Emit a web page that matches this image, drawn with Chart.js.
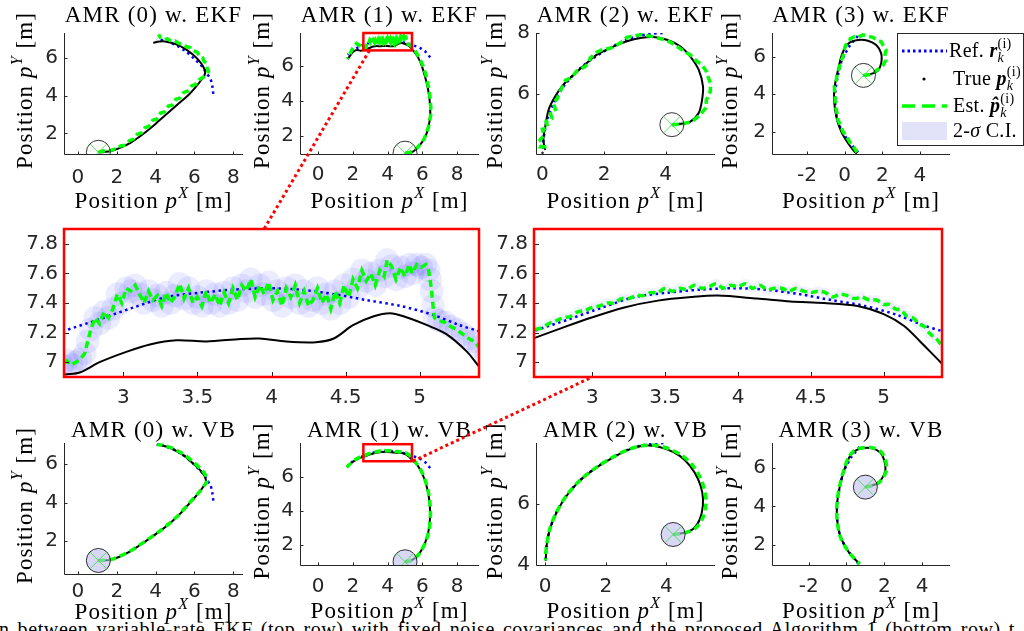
<!DOCTYPE html>
<html lang="en">
<head>
<meta charset="UTF-8">
<title>AMR trajectories - EKF vs VB</title>
<script src="https://cdn.jsdelivr.net/npm/chart.js"></script>
<style>
  html, body { margin: 0; padding: 0; background: #fff; }
  body { position: relative; width: 1024px; height: 631px; overflow: hidden; }
  canvas.pane { position: absolute; z-index: 1; }
  #links { position: absolute; left: 0; top: 0; z-index: 5; }
  #caption { position: absolute; left: -1px; top: 619px; font-family: "Liberation Serif", serif;
             font-size: 20px; line-height: 20px; white-space: nowrap; color: #000;
             letter-spacing: 0.6px; word-spacing: 2.4px; }
</style>
</head>
<body>
<div id="caption">n between variable-rate EKF (top row) with fixed noise covariances and the proposed Algorithm 1 (bottom row) t</div>
<canvas id="links" width="1024" height="631"></canvas>
<script>
// ---- trajectories, [x, y] in metres ----
// AMR (0)
const ref0 = [[6.97,4.1],[6.92,4.5],[6.82,4.9],[6.62,5.2],[6.52,5.38],[6.3,5.66],[5.95,6.0],[5.51,6.39],[5.1,6.65],[4.74,6.82],[4.35,6.95],[4.06,7.0]];
const true0e = [[1.05,1.0],[1.35,1.02],[1.7,1.07],[2.2,1.25],[2.7,1.5],[3.2,1.85],[3.7,2.25],[4.2,2.7],[4.7,3.15],[5.2,3.6],[5.65,4.0],[6.05,4.45],[6.4,4.9],[6.55,5.2],[6.45,5.55],[6.2,5.9],[5.9,6.2],[5.5,6.5],[5.0,6.75],[4.5,6.88],[4.1,6.87],[3.88,6.8]];
const est0e = [[1.05,1.0],[1.3,1.08],[1.55,1.02],[1.8,1.14],[2.0,1.2],[2.2,1.34],[2.45,1.38],[2.65,1.62],[2.85,1.7],[3.05,1.96],[3.25,2.02],[3.45,2.3],[3.65,2.38],[3.85,2.7],[4.05,2.76],[4.25,3.08],[4.45,3.14],[4.65,3.45],[4.85,3.5],[5.05,3.82],[5.25,3.88],[5.45,4.18],[5.65,4.25],[5.85,4.52],[6.05,4.6],[6.25,4.86],[6.45,4.98],[6.6,5.12],[6.72,5.3],[6.65,5.5],[6.62,5.7],[6.48,5.85],[6.42,6.02],[6.25,6.12],[6.15,6.3],[5.95,6.38],[5.8,6.55],[5.6,6.6],[5.4,6.75],[5.2,6.78],[5.0,6.92],[4.8,6.9],[4.6,7.02],[4.4,6.98],[4.25,7.08],[4.15,7.25]];
const true0v = [[1.05,1.0],[1.35,1.0],[1.66,1.03],[2.2,1.22],[2.69,1.47],[3.2,1.8],[3.72,2.16],[4.24,2.53],[4.74,2.93],[5.2,3.35],[5.6,3.8],[5.98,4.22],[6.28,4.58],[6.5,4.88],[6.59,5.09],[6.52,5.38],[6.3,5.66],[5.95,6.0],[5.51,6.39],[5.1,6.65],[4.74,6.82],[4.35,6.95],[4.06,6.99]];
const est0v = [[1.05,1.0],[1.4,1.01],[1.7,1.05],[2.2,1.24],[2.7,1.49],[3.2,1.82],[3.72,2.17],[4.24,2.55],[4.74,2.95],[5.2,3.37],[5.6,3.82],[5.98,4.24],[6.3,4.6],[6.52,4.9],[6.64,5.1],[6.58,5.4],[6.36,5.7],[6.0,6.04],[5.55,6.42],[5.12,6.68],[4.75,6.85],[4.35,6.97],[4.08,7.0]];

// AMR (1)
const ref1 = [[6.45,6.5],[6.2,6.8],[5.9,7.02],[5.6,7.15],[5.4,7.21],[5.27,7.25],[5.09,7.32],[4.87,7.38],[4.64,7.42],[4.42,7.46],[4.19,7.49],[3.97,7.5],[3.74,7.49],[3.52,7.47],[3.29,7.44],[3.07,7.37],[2.84,7.29],[2.6,7.21],[2.3,7.08],[2.0,6.9],[1.7,6.65]];
const true1e = [[5.0,1.0],[5.4,1.05],[5.8,1.4],[6.15,1.9],[6.35,2.5],[6.45,3.2],[6.42,4.0],[6.32,4.7],[6.15,5.4],[5.95,6.05],[5.75,6.5],[5.55,6.8],[5.4,6.97],[5.32,7.07],[5.18,7.19],[5.05,7.25],[4.89,7.31],[4.8,7.33],[4.69,7.31],[4.55,7.25],[4.42,7.16],[4.3,7.135],[4.1,7.14],[3.92,7.16],[3.79,7.157],[3.56,7.14],[3.36,7.148],[3.18,7.12],[3.02,7.07],[2.84,7.0],[2.705,6.93],[2.6,6.915],[2.45,6.88],[2.25,6.92],[2.05,6.85],[1.85,6.62],[1.7,6.4]];
const est1e = [[5.0,1.0],[5.3,1.05],[5.7,1.3],[6.1,1.8],[6.35,2.5],[6.5,3.3],[6.45,4.1],[6.35,4.8],[6.2,5.5],[6.0,6.1],[5.8,6.5],[5.6,6.85],[5.45,7.05],
  [5.40,7.10],[5.37,7.14],[5.33,7.16],[5.29,7.19],[5.25,7.22],[5.21,7.24],[5.17,7.27],[5.13,7.28],[5.10,7.30],[5.09,7.38],[5.08,7.48],[5.07,7.56],[5.06,7.62],[5.04,7.66],[5.01,7.64],[4.98,7.66],[4.95,7.60],[4.93,7.66],[4.90,7.58],[4.87,7.64],[4.84,7.56],[4.81,7.65],[4.78,7.69],[4.76,7.58],[4.73,7.62],[4.70,7.52],[4.67,7.60],[4.64,7.55],[4.61,7.62],[4.58,7.50],[4.55,7.56],[4.52,7.44],[4.49,7.52],[4.46,7.40],[4.43,7.48],[4.40,7.36],[4.37,7.46],[4.34,7.40],[4.31,7.50],[4.28,7.42],[4.25,7.38],[4.22,7.48],[4.19,7.40],[4.16,7.52],[4.13,7.44],[4.10,7.50],[4.07,7.38],[4.04,7.48],[4.01,7.42],[3.98,7.54],[3.95,7.46],[3.92,7.52],[3.89,7.44],[3.86,7.56],[3.83,7.48],[3.80,7.52],[3.77,7.42],[3.74,7.50],[3.71,7.40],[3.68,7.47],[3.65,7.38],[3.62,7.46],[3.59,7.40],[3.56,7.48],[3.53,7.38],[3.50,7.44],[3.47,7.40],[3.44,7.50],[3.41,7.43],[3.38,7.53],[3.35,7.45],[3.32,7.40],[3.29,7.47],[3.26,7.38],[3.23,7.45],[3.20,7.42],[3.17,7.48],[3.14,7.40],[3.11,7.46],[3.08,7.52],[3.05,7.48],[3.02,7.50],[2.99,7.40],[2.96,7.46],[2.93,7.36],[2.90,7.30],[2.87,7.34],[2.84,7.26],[2.81,7.30],[2.78,7.22],[2.76,7.14],[2.74,7.06],[2.71,7.02],[2.68,7.00],[2.65,6.98],[2.62,7.01],[2.59,6.98],
  [2.5,7.05],[2.35,7.22],[2.2,7.3],[2.05,7.15],[1.9,6.85],[1.75,6.55],[1.68,6.42]];
const true1v = [[5.0,1.0],[5.3,1.06],[5.63,1.25],[5.9,1.6],[6.15,2.1],[6.35,2.8],[6.44,3.6],[6.42,4.4],[6.3,5.2],[6.1,5.9],[5.85,6.45],[5.6,6.8],[5.39,7.0],[5.25,7.14],[5.14,7.245],[5.0,7.325],[4.82,7.38],[4.59,7.4],[4.36,7.41],[4.13,7.43],[3.86,7.45],[3.68,7.44],[3.45,7.416],[3.22,7.37],[2.99,7.3],[2.76,7.22],[2.61,7.166],[2.35,7.07],[2.1,6.93],[1.85,6.75],[1.65,6.55]];
const est1v = [[5.0,1.0],[5.3,1.05],[5.62,1.24],[5.9,1.6],[6.16,2.1],[6.37,2.8],[6.46,3.6],[6.44,4.4],[6.32,5.2],[6.12,5.9],[5.88,6.45],[5.62,6.82],[5.5,6.98],
  [5.40,7.11],[5.36,7.16],[5.32,7.19],[5.28,7.24],[5.24,7.26],[5.20,7.30],[5.16,7.31],[5.12,7.35],[5.08,7.36],[5.04,7.39],[5.00,7.39],[4.95,7.42],[4.90,7.42],[4.85,7.44],[4.80,7.43],[4.75,7.45],[4.70,7.46],[4.65,7.44],[4.60,7.47],[4.55,7.48],[4.50,7.47],[4.45,7.48],[4.40,7.50],[4.35,7.48],[4.30,7.50],[4.25,7.50],[4.20,7.49],[4.15,7.52],[4.10,7.50],[4.05,7.53],[4.00,7.51],[3.95,7.52],[3.90,7.50],[3.85,7.53],[3.80,7.51],[3.75,7.50],[3.70,7.52],[3.65,7.49],[3.60,7.50],[3.55,7.48],[3.50,7.50],[3.45,7.47],[3.40,7.47],[3.35,7.45],[3.30,7.45],[3.25,7.43],[3.20,7.43],[3.15,7.40],[3.10,7.40],[3.05,7.38],[3.00,7.37],[2.95,7.35],[2.90,7.34],[2.85,7.31],[2.80,7.30],[2.75,7.28],[2.70,7.26],[2.65,7.23],[2.60,7.22],
  [2.4,7.14],[2.15,7.0],[1.9,6.8],[1.65,6.55]];

// AMR (2)
const ref2 = [[3.9,8.0],[3.5,7.97],[3.1,7.9],[2.68,7.76],[2.25,7.54],[1.7,7.21],[1.15,6.78],[0.71,6.28],[0.38,5.74],[0.16,5.19],[0.05,4.64],[0.0,4.05]];
const true2e = [[4.2,5.0],[4.48,5.03],[4.8,5.1],[5.07,5.38],[5.18,5.81],[5.21,6.25],[5.07,6.8],[4.8,7.23],[4.48,7.56],[4.04,7.78],[3.61,7.87],[3.18,7.84],[2.74,7.73],[2.31,7.56],[1.77,7.29],[1.44,7.02],[1.01,6.63],[0.68,6.31],[0.41,5.92],[0.2,5.49],[0.09,4.94],[0.03,4.5],[0.09,4.17]];
const est2e = [[4.2,5.0],[4.5,5.02],[4.85,5.1],[5.1,5.3],[5.3,5.55],[5.32,5.8],[5.45,6.1],[5.45,6.36],[5.38,6.55],[5.32,6.75],[5.15,6.98],[5.0,7.08],[4.8,7.28],[4.6,7.4],[4.37,7.56],[4.15,7.7],[3.95,7.78],[3.6,7.88],[3.2,7.95],[2.95,7.9],[2.74,7.86],[2.6,7.72],[2.4,7.6],[2.2,7.5],[1.95,7.46],[1.75,7.36],[1.55,7.18],[1.5,7.02],[1.38,6.9],[1.12,6.76],[0.95,6.55],[0.75,6.45],[0.65,6.25],[0.55,6.05],[0.48,5.85],[0.35,5.72],[0.42,5.5],[0.25,5.42],[0.3,5.2],[0.12,5.1],[0.18,4.9],[0.0,4.85],[0.05,4.65],[-0.08,4.5],[0.0,4.35],[-0.05,4.28],[0.14,4.28]];
const true2v = [[4.22,5.0],[4.55,5.05],[4.88,5.18],[5.1,5.5],[5.2,5.95],[5.18,6.38],[5.04,6.82],[4.77,7.26],[4.44,7.58],[4.0,7.8],[3.56,7.91],[3.12,7.89],[2.68,7.75],[2.25,7.53],[1.7,7.2],[1.15,6.77],[0.71,6.27],[0.38,5.73],[0.16,5.18],[0.05,4.63],[0.02,4.14]];
const est2v = [[4.22,5.0],[4.6,5.05],[4.95,5.2],[5.2,5.55],[5.3,6.0],[5.27,6.4],[5.12,6.85],[4.85,7.28],[4.5,7.6],[4.05,7.82],[3.6,7.93],[3.14,7.9],[2.68,7.76],[2.24,7.54],[1.7,7.21],[1.15,6.78],[0.71,6.28],[0.38,5.74],[0.16,5.2],[0.05,4.65],[0.01,4.15]];

// AMR (3)
const ref3 = [[0.7,7.1],[0.45,6.8],[0.25,6.55],[0.05,6.2],[-0.14,5.83],[-0.35,5.04],[-0.49,4.17],[-0.49,3.3],[-0.32,2.43],[0.04,1.74],[0.39,1.3],[0.72,0.9]];
const true3e = [[1.0,5.0],[1.41,5.08],[1.76,5.25],[1.94,5.64],[1.94,6.18],[1.68,6.62],[1.24,6.85],[0.71,6.89],[0.26,6.75],[0.0,6.44],[-0.18,6.0],[-0.35,5.29],[-0.53,4.4],[-0.56,3.69],[-0.44,2.8],[-0.18,2.0],[0.18,1.38],[0.53,0.93],[0.65,0.84]];
const est3e = [[1.0,5.0],[1.41,5.05],[1.85,5.38],[2.05,5.55],[2.2,5.82],[2.15,6.1],[2.2,6.36],[2.05,6.6],[1.94,6.8],[1.7,6.9],[1.5,7.03],[1.2,7.1],[0.97,7.16],[0.75,7.05],[0.53,7.07],[0.3,6.95],[0.26,6.82],[0.05,6.6],[0.0,6.45],[-0.05,6.2],[-0.09,6.0],[-0.22,5.7],[-0.26,5.47],[-0.4,5.1],[-0.44,4.76],[-0.55,4.4],[-0.53,4.04],[-0.5,3.7],[-0.48,3.33],[-0.4,2.95],[-0.35,2.62],[-0.2,2.3],[-0.09,2.0],[0.1,1.75],[0.26,1.47],[0.35,1.3],[0.53,1.11],[0.65,0.9]];
const true3v = [[1.0,5.0],[1.53,5.15],[1.88,5.45],[2.06,5.88],[2.0,6.4],[1.79,6.8],[1.35,7.02],[0.83,7.02],[0.39,6.85],[0.12,6.5],[-0.14,5.83],[-0.35,5.04],[-0.49,4.17],[-0.49,3.3],[-0.32,2.43],[0.04,1.74],[0.39,1.3],[0.7,1.0]];
const est3v = [[1.0,5.0],[1.55,5.13],[1.9,5.42],[2.12,5.9],[2.06,6.42],[1.83,6.84],[1.37,7.06],[0.83,7.05],[0.38,6.88],[0.1,6.52],[-0.15,5.85],[-0.36,5.05],[-0.5,4.18],[-0.5,3.3],[-0.33,2.43],[0.03,1.74],[0.39,1.3],[0.7,1.0]];

// ---- tick labels ----
const ticksX08 = [0, 2, 4, 6, 8];
const ticksX04 = [0, 2, 4];
const ticksXm24 = [-2, 0, 2, 4];
const ticksY246 = [2, 4, 6];
const ticksY68 = [6, 8];
const ticksY46 = [4, 6];
const zoomTicksX = [3, 3.5, 4, 4.5, 5];
const zoomTicksY = [7, 7.2, 7.4, 7.6, 7.8];
const zoomWin = [2.6, 5.4, 6.9, 7.9];   // x min, x max, y min, y max

const titles = ['AMR (0) w. EKF', 'AMR (1) w. EKF', 'AMR (2) w. EKF', 'AMR (3) w. EKF',
                'AMR (0) w. VB', 'AMR (1) w. VB', 'AMR (2) w. VB', 'AMR (3) w. VB'];

// ---- styling ----
const SERIF = '"Liberation Serif", "Times New Roman", serif';
const TICKFONT = { family: '"DejaVu Sans", sans-serif', size: 20 };
const AXC = '#262626';
const AW = 40, AH = 30;

const xy = a => a.map(p => ({ x: p[0], y: p[1] }));

function sigmaPx(chart, r) {
  const s = chart.scales.x;
  if (!s) return 0;
  return Math.abs(s.getPixelForValue(r) - s.getPixelForValue(0));
}

function pathSets(ref, tru, est, vb) {
  const sig = vb ? 0.035 : 0.08;
  return [
    { data: xy([tru[0]]), pointStyle: 'crossRot', pointRadius: 12, borderColor: '#33dd33', borderWidth: 0.8, backgroundColor: 'transparent', order: 0 },
    { data: xy([tru[0]]), pointStyle: 'circle', pointRadius: 12, borderColor: '#000', borderWidth: 0.8, backgroundColor: vb ? 'rgba(190,190,240,0.6)' : 'transparent', order: 0.5 },
    { data: xy(est), showLine: true, borderColor: '#00ff00', borderWidth: 3.5, borderDash: [7, 4], pointRadius: 0, tension: vb ? 0.3 : 0, order: 1 },
    { data: xy(tru), showLine: true, borderColor: '#000', borderWidth: 2, pointRadius: 0, tension: 0.3, order: 2 },
    { data: xy(ref), showLine: true, borderColor: '#0000ff', borderWidth: 2.5, borderDash: [2.5, 3.5], pointRadius: 0, tension: 0.3, order: 3 },
    { data: xy(est), pointRadius: c => sigmaPx(c.chart, sig), backgroundColor: vb ? 'rgba(0,0,255,0.05)' : 'rgba(0,0,255,0.075)', borderWidth: 0, order: 4 }
  ];
}

function zoomSets(ref, tru, est, vb) {
  return pathSets(ref, tru, est, vb).slice(2);
}

// ---- rich text (math-ish labels) ----
function richWidth(ctx, runs) {
  let w = 0;
  for (const r of runs) {
    if (r.stack) {
      let m = 0;
      r.stack.forEach(s => { ctx.font = s.f; m = Math.max(m, ctx.measureText(s.t).width); });
      w += m;
    } else { ctx.font = r.f; w += ctx.measureText(r.t).width; }
  }
  return w;
}
function drawRich(ctx, runs, x, y) {
  let cx = x;
  for (const r of runs) {
    if (r.stack) {
      let m = 0;
      r.stack.forEach(s => { ctx.font = s.f; ctx.fillText(s.t, cx, y + (s.dy || 0)); m = Math.max(m, ctx.measureText(s.t).width); });
      cx += m;
    } else {
      ctx.font = r.f; ctx.fillText(r.t, cx, y + (r.dy || 0)); cx += ctx.measureText(r.t).width;
    }
  }
}
const R23 = '23px ' + SERIF, I23 = 'italic 23px ' + SERIF, I16 = 'italic 16px ' + SERIF;
const labelRuns = sup => [{ t: 'Position ', f: R23 }, { t: 'p', f: I23 }, { t: sup, f: I16, dy: -10 }, { t: ' [m]', f: R23 }];

const R20 = '20px ' + SERIF, BI20 = 'bold italic 20px ' + SERIF, R14 = '14px ' + SERIF, I14 = 'italic 14px ' + SERIF, I20 = 'italic 20px ' + SERIF;
const idx = [{ t: '(i)', f: R14, dy: -9 }, { t: 'k', f: I14, dy: 5 }];
const legendRows = [
  { kind: 'dot', runs: [{ t: 'Ref. ', f: R20 }, { t: 'r', f: BI20 }, { stack: idx }] },
  { kind: 'pt', runs: [{ t: 'True ', f: R20 }, { t: 'p', f: BI20 }, { stack: idx }] },
  { kind: 'dash', runs: [{ t: 'Est. ', f: R20 }, { t: 'p\u0302', f: BI20 }, { stack: idx }] },
  { kind: 'ci', runs: [{ t: '2-', f: R20 }, { t: '\u03c3', f: I20 }, { t: ' C.I.', f: R20 }] }
];

function seg(ctx, x1, y1, x2, y2) { ctx.beginPath(); ctx.moveTo(x1, y1); ctx.lineTo(x2, y2); ctx.stroke(); }

function panelPlugin(p) {
  return {
    id: 'deco',
    afterDraw(chart) {
      const ctx = chart.ctx, a = chart.chartArea, sx = chart.scales.x, sy = chart.scales.y;
      ctx.save();
      ctx.fillStyle = '#000';
      if (p.zoom) {
        ctx.strokeStyle = AXC; ctx.lineWidth = 1;
        p.xt.forEach(v => { const x = Math.round(sx.getPixelForValue(v)) + 0.5; seg(ctx, x, a.bottom, x, a.bottom - 5); });
        p.yt.forEach(v => { const y = Math.round(sy.getPixelForValue(v)) + 0.5; seg(ctx, a.left, y, a.left + 5, y); });
        ctx.strokeStyle = '#ff0000'; ctx.lineWidth = 2.5;
        ctx.strokeRect(a.left, a.top, a.right - a.left, a.bottom - a.top);
      } else {
        ctx.strokeStyle = AXC; ctx.lineWidth = 1;
        const l = Math.round(a.left) + 0.5, b = Math.round(a.bottom) + 0.5;
        seg(ctx, l, a.top, l, b); seg(ctx, l, b, a.right, b);
        p.xt.forEach(v => { const x = Math.round(sx.getPixelForValue(v)) + 0.5; seg(ctx, x, b, x, b - 3); });
        p.yt.forEach(v => { const y = Math.round(sy.getPixelForValue(v)) + 0.5; seg(ctx, l, y, l + 3, y); });
        if (p.box) {
          const x1 = sx.getPixelForValue(zoomWin[0]), x2 = sx.getPixelForValue(zoomWin[1]);
          const y1 = sy.getPixelForValue(zoomWin[3]), y2 = sy.getPixelForValue(zoomWin[2]);
          ctx.strokeStyle = '#ff0000'; ctx.lineWidth = 2.5;
          ctx.strokeRect(x1, y1, x2 - x1, y2 - y1);
        }
        const cxm = (a.left + a.right) / 2;
        ctx.textBaseline = 'alphabetic'; ctx.textAlign = 'left';
        ctx.letterSpacing = '1.2px';
        // title
        const tr = [{ t: p.title, f: R23 }];
        drawRich(ctx, tr, cxm - richWidth(ctx, tr) / 2, p.titleY - p.y0);
        ctx.letterSpacing = '1.1px';
        // x label
        const xl = labelRuns('X');
        drawRich(ctx, xl, cxm - richWidth(ctx, xl) / 2, p.xlabY - p.y0);
        // y label
        const yl = labelRuns('Y');
        ctx.save();
        ctx.translate(p.ylabX - p.x0 + 7, (a.top + a.bottom) / 2 - 3);
        ctx.rotate(-Math.PI / 2);
        drawRich(ctx, yl, -richWidth(ctx, yl) / 2, 0);
        ctx.restore();
        ctx.letterSpacing = '0.3px';
        if (p.legend) drawLegend(ctx, p);
      }
      ctx.restore();
    }
  };
}

function drawLegend(ctx, p) {
  const ox = -p.x0, oy = -p.y0;
  const bx = 897 + ox, by = 33 + oy, bw = 126, bh = 112;
  ctx.fillStyle = '#fff'; ctx.fillRect(bx, by, bw, bh);
  ctx.strokeStyle = AXC; ctx.lineWidth = 1; ctx.strokeRect(bx + 0.5, by + 0.5, bw, bh);
  const rowsY = [51, 79, 106, 131];
  legendRows.forEach((r, i) => {
    const y = rowsY[i] + oy;
    ctx.save();
    if (r.kind === 'dot') {
      ctx.strokeStyle = '#0000ff'; ctx.lineWidth = 3; ctx.setLineDash([2.5, 3]); seg(ctx, bx + 5, y, bx + 50, y);
    } else if (r.kind === 'pt') {
      ctx.fillStyle = '#000'; ctx.beginPath(); ctx.arc(bx + 27, y, 1.6, 0, Math.PI * 2); ctx.fill();
    } else if (r.kind === 'dash') {
      ctx.strokeStyle = '#00ff00'; ctx.lineWidth = 3.5; ctx.setLineDash([13, 7]); seg(ctx, bx + 5, y, bx + 50, y);
    } else {
      ctx.fillStyle = '#e2e2f8'; ctx.fillRect(bx + 5, y - 9, 45, 18);
    }
    ctx.restore();
    ctx.fillStyle = '#000';
    drawRich(ctx, r.runs, bx + (i === 0 ? 52 : 56), y + 6);
  });
}

// ---- panel layout ----
const panels = [
  { id: 'p1', x0: 0,   y0: 0,   w: 263, h: 220, L: 64,  T: 33,  R: 243, B: 154, xlim: [-0.72, 8.5], ylim: [0.91, 7.33], xt: ticksX08, yt: ticksY246, ti: 0, titleY: 22,  xlabY: 208, ylabX: 25,  xpad: 12, sets: pathSets(ref0, true0e, est0e, false) },
  { id: 'p2', x0: 236, y0: 0,   w: 263, h: 220, L: 300, T: 33,  R: 479, B: 154, xlim: [-1.05, 9.26], ylim: [0.95, 7.9], xt: ticksX08, yt: ticksY246, ti: 1, titleY: 22, xlabY: 208, ylabX: 262, xpad: 9, box: true, sets: pathSets(ref1, true1e, est1e, false) },
  { id: 'p3', x0: 472, y0: 0,   w: 263, h: 220, L: 536, T: 33,  R: 715, B: 154, xlim: [-0.21, 5.6], ylim: [4.04, 8.0], xt: ticksX04, yt: ticksY68, ti: 2, titleY: 22, xlabY: 208, ylabX: 495, xpad: 9, sets: pathSets(ref2, true2e, est2e, false) },
  { id: 'p4', x0: 708, y0: 0,   w: 316, h: 220, L: 772, T: 33,  R: 950, B: 154, xlim: [-3.86, 5.6], ylim: [0.81, 7.26], xt: ticksXm24, yt: ticksY246, ti: 3, titleY: 22, xlabY: 208, ylabX: 730, xpad: 10, legend: true, sets: pathSets(ref3, true3e, est3e, false) },
  { id: 'm1', x0: 0,   y0: 204, w: 500, h: 206, L: 64,  T: 229, R: 479, B: 377, xlim: [zoomWin[0], zoomWin[1]], ylim: [zoomWin[2], zoomWin[3]], xt: zoomTicksX, yt: zoomTicksY, zoom: true, xpad: 9, sets: zoomSets(ref1, true1e, est1e, false) },
  { id: 'm2', x0: 490, y0: 204, w: 534, h: 206, L: 534, T: 229, R: 942, B: 377, xlim: [zoomWin[0], zoomWin[1]], ylim: [zoomWin[2], zoomWin[3]], xt: zoomTicksX, yt: zoomTicksY, zoom: true, xpad: 9, sets: zoomSets(ref1, true1v, est1v, true) },
  { id: 'p5', x0: 0,   y0: 410, w: 263, h: 221, L: 64,  T: 443, R: 243, B: 574, xlim: [-0.72, 8.5], ylim: [0.3, 7.08], xt: ticksX08, yt: ticksY246, ti: 4, titleY: 437, xlabY: 619, ylabX: 25, xpad: 6, sets: pathSets(ref0, true0v, est0v, true) },
  { id: 'p6', x0: 236, y0: 410, w: 263, h: 221, L: 300, T: 443, R: 479, B: 565, xlim: [-1.05, 9.26], ylim: [0.81, 7.97], xt: ticksX08, yt: ticksY246, ti: 5, titleY: 437, xlabY: 618, ylabX: 262, xpad: 10, box: true, sets: pathSets(ref1, true1v, est1v, true) },
  { id: 'p7', x0: 472, y0: 410, w: 263, h: 221, L: 536, T: 443, R: 715, B: 565, xlim: [-0.3, 5.6], ylim: [4.0, 8.0], xt: ticksX04, yt: ticksY46, ti: 6, titleY: 437, xlabY: 618, ylabX: 495, xpad: 10, sets: pathSets(ref2, true2v, est2v, true) },
  { id: 'p8', x0: 708, y0: 410, w: 316, h: 221, L: 772, T: 443, R: 950, B: 565, xlim: [-3.94, 5.48], ylim: [0.94, 7.3], xt: ticksXm24, yt: ticksY246, ti: 7, titleY: 437, xlabY: 618, ylabX: 730, xpad: 10, sets: pathSets(ref3, true3v, est3v, true) }
];

const charts = {};
panels.forEach(p => {
  p.title = p.ti !== undefined ? titles[p.ti] : '';
  const cv = document.createElement('canvas');
  cv.className = 'pane';
  cv.width = p.w; cv.height = p.h;
  cv.style.left = p.x0 + 'px'; cv.style.top = p.y0 + 'px';
  document.body.appendChild(cv);
  const scaleBase = (lim, ticks, isX) => ({
    type: 'linear', min: lim[0], max: lim[1],
    grid: { display: false, drawTicks: false }, border: { display: false },
    ticks: { color: AXC, font: TICKFONT, padding: isX ? p.xpad : 6, maxRotation: 0, autoSkip: false, callback: v => String(v) },
    afterBuildTicks: s => { s.ticks = ticks.map(v => ({ value: v })); },
    afterFit: s => { if (isX) s.height = AH; else s.width = AW; }
  });
  charts[p.id] = new Chart(cv, {
    type: 'scatter',
    data: { datasets: p.sets },
    options: {
      responsive: false, animation: false, events: [],
      layout: { padding: { left: p.L - p.x0 - AW, top: p.T - p.y0, right: p.x0 + p.w - p.R, bottom: p.y0 + p.h - p.B - AH } },
      plugins: { legend: { display: false }, tooltip: { enabled: false } },
      scales: { x: scaleBase(p.xlim, p.xt, true), y: scaleBase(p.ylim, p.yt, false) }
    },
    plugins: [panelPlugin(p)]
  });
});

// ---- red dotted links between the boxed window and the zoom panels ----
const links = [
  { from: ['p2', 2.95, 6.9], to: ['m1', 3.95, 7.9] },
  { from: ['p6', 5.45, 6.9], to: ['m2', 3.0, 6.9] }
];
const lk = document.getElementById('links').getContext('2d');
const pageXY = (id, x, y) => {
  const c = charts[id], p = panels.find(q => q.id === id);
  return [p.x0 + c.scales.x.getPixelForValue(x), p.y0 + c.scales.y.getPixelForValue(y)];
};
lk.strokeStyle = '#ff0000'; lk.lineWidth = 3; lk.setLineDash([3, 3]);
links.forEach(l => {
  const a = pageXY(...l.from), b = pageXY(...l.to);
  seg(lk, a[0], a[1], b[0], b[1]);
});
</script>
</body>
</html>
